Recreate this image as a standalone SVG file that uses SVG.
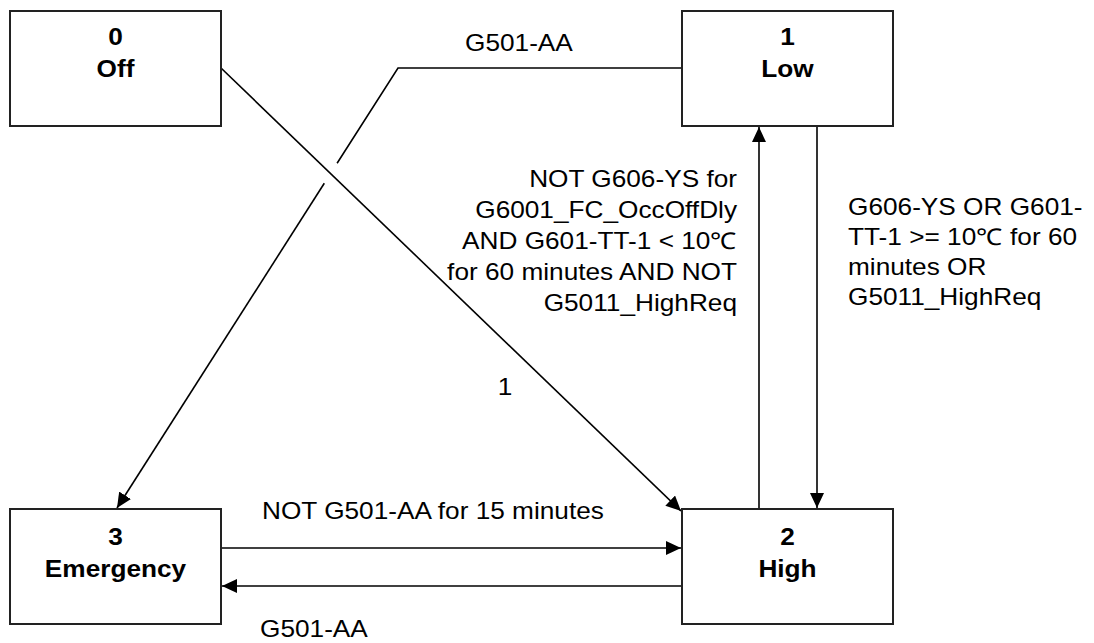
<svg xmlns="http://www.w3.org/2000/svg" width="1094" height="643" viewBox="0 0 1094 643">
<style>
.box{fill:#fff;stroke:#222;stroke-width:2}
.bt{font-family:"Liberation Sans",Arial,sans-serif;font-weight:bold;font-size:23px;text-anchor:middle;fill:#000}
.lt{font-family:"Liberation Sans",Arial,sans-serif;font-size:23px;fill:#000}
.ln{fill:none;stroke:#000;stroke-width:1.6}
</style>
<defs>
<marker id="ah" markerWidth="15" markerHeight="14" refX="15" refY="7" orient="auto" markerUnits="userSpaceOnUse">
<path d="M0,0 L15,7 L0,14 Z" fill="#000"/>
</marker>
</defs>
<rect width="1094" height="643" fill="#fff"/>
<g id="connectors">
<line class="ln" x1="221" y1="68" x2="681" y2="511" marker-end="url(#ah)"/>
<polyline class="ln" points="682,68 398,68 337.1,163.3"/>
<line class="ln" x1="324.3" y1="183.3" x2="117" y2="508" marker-end="url(#ah)"/>
<line class="ln" x1="759" y1="509" x2="759" y2="127" marker-end="url(#ah)"/>
<line class="ln" x1="817" y1="126" x2="817" y2="508" marker-end="url(#ah)"/>
<line class="ln" x1="221" y1="548" x2="681" y2="548" marker-end="url(#ah)"/>
<line class="ln" x1="682" y1="586" x2="222" y2="586" marker-end="url(#ah)"/>
<text class="lt" transform="translate(505,395) scale(1.14,1)" text-anchor="middle">1</text>
<text class="lt" transform="translate(465,51) scale(1.14,1)">G501-AA</text>
<text class="lt" transform="translate(262,519) scale(1.14,1)">NOT G501-AA for 15 minutes</text>
<text class="lt" transform="translate(260,637) scale(1.14,1)">G501-AA</text>
<text class="lt" transform="translate(737,187) scale(1.14,1)" text-anchor="end"><tspan x="0" y="0">NOT G606-YS for</tspan><tspan x="0" y="31">G6001_FC_OccOffDly</tspan><tspan x="0" y="62">AND G601-TT-1 &lt; 10℃</tspan><tspan x="0" y="93">for 60 minutes AND NOT</tspan><tspan x="0" y="124">G5011_HighReq</tspan></text>
<text class="lt" transform="translate(848,215) scale(1.14,1)"><tspan x="0" y="0">G606-YS OR G601-</tspan><tspan x="0" y="30">TT-1 &gt;= 10℃ for 60</tspan><tspan x="0" y="60">minutes OR</tspan><tspan x="0" y="90">G5011_HighReq</tspan></text>
</g>
<g id="node0">
<rect class="box" x="10" y="11" width="211" height="115"/>
<text class="bt" transform="translate(115.5,45) scale(1.14,1)">0</text>
<text class="bt" transform="translate(115.5,77) scale(1.14,1)">Off</text>
</g>
<g id="node1">
<rect class="box" x="682" y="11" width="211" height="115"/>
<text class="bt" transform="translate(787.5,45) scale(1.14,1)">1</text>
<text class="bt" transform="translate(787.5,77) scale(1.14,1)">Low</text>
</g>
<g id="node3">
<rect class="box" x="10" y="509" width="211" height="115"/>
<text class="bt" transform="translate(115.5,545) scale(1.14,1)">3</text>
<text class="bt" transform="translate(115.5,577) scale(1.14,1)">Emergency</text>
</g>
<g id="node2">
<rect class="box" x="682" y="509" width="211" height="115"/>
<text class="bt" transform="translate(787.5,545) scale(1.14,1)">2</text>
<text class="bt" transform="translate(787.5,577) scale(1.14,1)">High</text>
</g>
</svg>
